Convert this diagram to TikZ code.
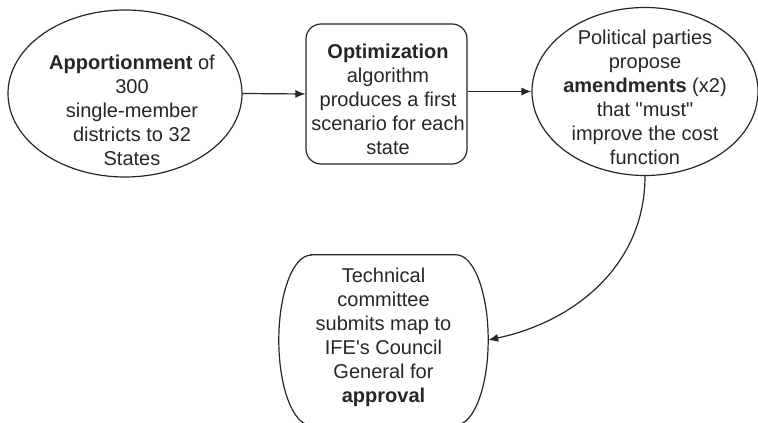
\documentclass[tikz,border=0pt]{standalone}
\usepackage{fontspec}
\setmainfont{Liberation Sans}[Ligatures=TeXOff]
\usetikzlibrary{shapes.geometric,arrows.meta}

\tikzset{
  outline/.style={draw=black!85,line width=1.2pt},
  blob/.style={ellipse,outline,inner sep=0pt},
  procbox/.style={rectangle,rounded corners=15pt,outline,inner sep=0pt},
  words/.style={align=center,text=black!85,inner sep=0pt,font=\fontsize{20}{24}\selectfont},
  flow/.style={draw=black!85,line width=1.2pt,-{Latex[length=10pt,width=8pt]}}
}

\begin{document}
\begin{tikzpicture}[x=1pt,y=1pt]
  \useasboundingbox (0,0) rectangle (758,423);

  % the three steps in the top row
  \path (125,329.5) node[blob,minimum width=234pt,minimum height=167pt] (appo) {};
  \path (386.5,329) node[procbox,minimum width=161pt,minimum height=140pt] (optim) {};
  \path (645,331.5) node[blob,minimum width=226pt,minimum height=168pt] (parties) {};

  % the last step, with half-ellipse sides
  \path (383.5,83) node[minimum width=209pt,minimum height=170pt,inner sep=0pt] (submit) {};
  \draw[outline] ([xshift=32pt]submit.north west) -- ([xshift=-32pt]submit.north east)
    arc[start angle=90,end angle=-90,x radius=32pt,y radius=85pt]
    -- ([xshift=32pt]submit.south west)
    arc[start angle=270,end angle=90,x radius=32pt,y radius=85pt] -- cycle;

  % texts
  \path (132,313) node[words] (appotext) {\textbf{Apportionment} of\\300\\single-member\\districts to 32\\States};
  \path (388,323.5) node[words] (optimtext) {\textbf{Optimization}\\algorithm\\produces a first\\scenario for each\\state};
  \path (645,326) node[words] (partiestext) {Political parties\\propose\\\textbf{amendments} (x2)\\that "must"\\improve the cost\\function};
  \path (383.5,85.5) node[words] (submittext) {Technical\\committee\\submits map to\\IFE's Council\\General for\\\textbf{approval}};

  % connectors
  \draw[flow] (appo.east) -- (optim.west);
  \draw[flow] (optim.east |- parties.west) -- (parties.west);
  \draw[flow] (parties.south) to[out=-90,in=12] (submit.east);
\end{tikzpicture}
\end{document}
